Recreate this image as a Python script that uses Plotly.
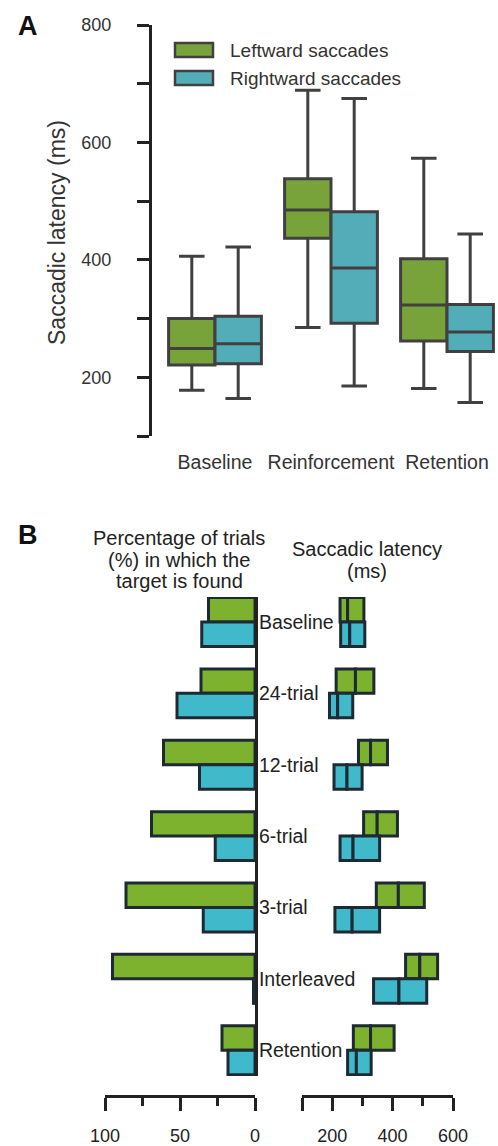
import plotly.graph_objects as go

# ---------------- data ----------------
# Panel A: box summary (ms)
phases = ["Baseline", "Reinforcement", "Retention"]
left_lower = [178, 285, 181]
left_q1 = [221, 437, 262]
left_median = [249, 485, 323]
left_q3 = [300, 538, 402]
left_upper = [406, 689, 573]

right_lower = [164, 185, 157]
right_q1 = [223, 292, 244]
right_median = [257, 386, 277]
right_q3 = [304, 482, 324]
right_upper = [422, 675, 444]

# Panel B
conditions = ["Baseline", "24-trial", "12-trial", "6-trial", "3-trial", "Interleaved", "Retention"]
pct_left = [31, 36, 61, 69, 86, 95, 22]
pct_right = [35.5, 52, 37, 26.5, 34.5, 1, 18]

lat_left_q1 = [226, 213, 287, 304, 346, 443, 270]
lat_left_med = [251, 277, 327, 349, 419, 490, 327]
lat_left_q3 = [305, 338, 383, 416, 505, 549, 405]
lat_right_q1 = [228, 191, 206, 226, 209, 337, 251]
lat_right_med = [258, 218, 249, 269, 266, 421, 280]
lat_right_q3 = [308, 268, 299, 357, 357, 513, 329]

a_yticks = [100, 200, 300, 400, 500, 600, 700, 800]
a_yticktext = ["", "200", "", "400", "", "600", "", "800"]
b_left_major = [100, 50, 0]
b_left_minor = [75, 25]
b_right_major = [100, 200, 400, 600]
b_right_major_text = ["", "200", "400", "600"]
b_right_minor = [300, 500]

a_ytitle = "Saccadic latency (ms)"
title_left_lines = ["Percentage of trials", "(%) in which the", "target is found"]
title_right_lines = ["Saccadic latency", "(ms)"]

# ---------------- styling ----------------
W, H = 498, 1146
FONT = "Liberation Sans, Arial, Helvetica, sans-serif"
A_GREEN, A_CYAN, A_LINE = "#78a23a", "#52adb9", "#404040"
B_GREEN, B_CYAN, B_LINE = "#7cb22e", "#40bacb", "#1d2a33"
AXC = "#222222"


def xf(px):
    return px / W


def yf(py):
    return 1 - py / H


fig = go.Figure()

# Panel A boxes
fig.add_trace(go.Box(
    x=phases, q1=left_q1, median=left_median, q3=left_q3,
    lowerfence=left_lower, upperfence=left_upper,
    name="Leftward saccades", fillcolor=A_GREEN,
    line=dict(color=A_LINE, width=3), whiskerwidth=0.55,
    boxpoints=False, showlegend=False, xaxis="x", yaxis="y"))
fig.add_trace(go.Box(
    x=phases, q1=right_q1, median=right_median, q3=right_q3,
    lowerfence=right_lower, upperfence=right_upper,
    name="Rightward saccades", fillcolor=A_CYAN,
    line=dict(color=A_LINE, width=3), whiskerwidth=0.55,
    boxpoints=False, showlegend=False, xaxis="x", yaxis="y"))

# Panel B percentage bars
bw = 0.343
fig.add_trace(go.Bar(
    y=conditions, x=pct_left, orientation="h", width=bw, offset=-bw,
    marker=dict(color=B_GREEN, line=dict(color=B_LINE, width=3)),
    showlegend=False, xaxis="x2", yaxis="y2", name="Leftward"))
fig.add_trace(go.Bar(
    y=conditions, x=pct_right, orientation="h", width=bw, offset=0,
    marker=dict(color=B_CYAN, line=dict(color=B_LINE, width=3)),
    showlegend=False, xaxis="x2", yaxis="y2", name="Rightward"))


# Panel B latency bars (Q1-median, median-Q3)
def seg(a, b):
    return [bb - aa for aa, bb in zip(a, b)]


for base, top, col, off in [
    (lat_left_q1, lat_left_med, B_GREEN, -bw),
    (lat_left_med, lat_left_q3, B_GREEN, -bw),
    (lat_right_q1, lat_right_med, B_CYAN, 0),
    (lat_right_med, lat_right_q3, B_CYAN, 0),
]:
    fig.add_trace(go.Bar(
        y=conditions, x=seg(base, top), base=base, orientation="h",
        width=bw, offset=off,
        marker=dict(color=col, line=dict(color=B_LINE, width=3)),
        showlegend=False, xaxis="x3", yaxis="y3"))

# category geometry for panel B (pixels)
pitch = 71.37
c0 = 622.0
ytop, ybot = 597.0, 1076.0
yr = [(ybot - c0) / pitch, (ytop - c0) / pitch]

axis_line = dict(showline=True, linecolor=AXC, linewidth=3, automargin=False)

fig.update_layout(
    width=W, height=H,
    margin=dict(l=0, r=0, t=0, b=0, autoexpand=False),
    paper_bgcolor="white", plot_bgcolor="white",
    font=dict(family=FONT, size=18, color="#333333"),
    barmode="overlay", boxmode="group", boxgap=0.2, boxgroupgap=0,
    showlegend=False,
    xaxis=dict(
        domain=[xf(152), xf(498)], type="category",
        range=[(152 - 215) / 116, (498 - 215) / 116],
        showline=False, ticks="", showgrid=False, zeroline=False, automargin=False,
        tickfont=dict(size=19.5, color="#333333"), ticklabelstandoff=12,
        anchor="y"),
    yaxis=dict(
        domain=[yf(436), yf(25)], range=[100, 800],
        tickmode="array", tickvals=a_yticks, ticktext=a_yticktext,
        ticks="outside", ticklen=12, tickwidth=3, tickcolor=AXC,
        showgrid=False, zeroline=False, ticklabelstandoff=22,
        tickfont=dict(size=18, color="#333333"),
        anchor="x", **axis_line),
    xaxis2=dict(
        domain=[xf(105), xf(255)], range=[100, 0],
        tickmode="array", tickvals=b_left_major, ticktext=[str(v) for v in b_left_major],
        ticks="outside", ticklen=13, tickwidth=3, tickcolor=AXC,
        minor=dict(tickmode="array", tickvals=b_left_minor, ticks="outside",
                   ticklen=8, tickwidth=3, tickcolor=AXC),
        showgrid=False, zeroline=False, ticklabelstandoff=9,
        tickfont=dict(size=18, color="#222222"),
        anchor="free", position=yf(1096), **axis_line),
    yaxis2=dict(
        domain=[yf(ybot), yf(ytop)], type="category", range=yr,
        side="right", ticks="", showgrid=False, zeroline=False,
        tickfont=dict(size=19.5, color="#222222"), ticklabelstandoff=-3,
        anchor="x2", **axis_line),
    xaxis3=dict(
        domain=[xf(302), xf(453)], range=[100, 600],
        tickmode="array", tickvals=b_right_major, ticktext=b_right_major_text,
        ticks="outside", ticklen=13, tickwidth=3, tickcolor=AXC,
        minor=dict(tickmode="array", tickvals=b_right_minor, ticks="outside",
                   ticklen=8, tickwidth=3, tickcolor=AXC),
        showgrid=False, zeroline=False, ticklabelstandoff=9,
        tickfont=dict(size=18, color="#222222"),
        anchor="free", position=yf(1096), **axis_line),
    yaxis3=dict(
        domain=[yf(ybot), yf(ytop)], type="category", range=yr,
        visible=False, anchor="x3", automargin=False),
)

# Panel A y-axis title
fig.add_annotation(text=a_ytitle, xref="paper", yref="paper", x=xf(72), y=yf(232),
                   xanchor="right", yanchor="middle", textangle=-90, showarrow=False,
                   font=dict(size=23, color="#333333"))

# Legend (drawn as keys + labels)
legend_items = [("Leftward saccades", A_GREEN, 50), ("Rightward saccades", A_CYAN, 78)]
for label, col, cy in legend_items:
    fig.add_shape(type="rect", xref="paper", yref="paper",
                  x0=xf(175), x1=xf(213), y0=yf(cy - 7), y1=yf(cy + 7),
                  fillcolor=col, line=dict(color=A_LINE, width=2.5))
    fig.add_annotation(text=label, xref="paper", yref="paper",
                       x=xf(228), y=yf(cy), xanchor="left", yanchor="middle",
                       showarrow=False, font=dict(size=19, color="#333333"))

# Panel labels
fig.add_annotation(text="<b>A</b>", xref="paper", yref="paper", x=xf(16), y=yf(26),
                   xanchor="left", yanchor="middle", showarrow=False,
                   font=dict(size=27, color="#111111"))
fig.add_annotation(text="<b>B</b>", xref="paper", yref="paper", x=xf(16), y=yf(535),
                   xanchor="left", yanchor="middle", showarrow=False,
                   font=dict(size=27, color="#111111"))

# Panel B titles (one annotation per line for tight line spacing)
for i, line in enumerate(title_left_lines):
    fig.add_annotation(text=line, xref="paper", yref="paper", x=xf(179), y=yf(538 + 21.5 * i),
                       xanchor="center", yanchor="middle", showarrow=False,
                       font=dict(size=20, color="#222222"))
for i, line in enumerate(title_right_lines):
    fig.add_annotation(text=line, xref="paper", yref="paper", x=xf(367), y=yf(549 + 21.5 * i),
                       xanchor="center", yanchor="middle", showarrow=False,
                       font=dict(size=20, color="#222222"))

fig.write_html("out.html", config={"displayModeBar": False},
               post_script="document.body.style.margin='0';document.body.style.overflow='hidden';")
